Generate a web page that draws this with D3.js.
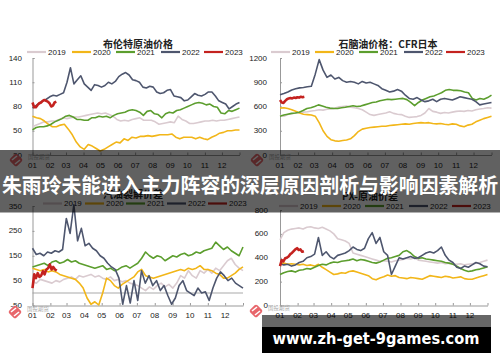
<!DOCTYPE html>
<html>
<head>
<meta charset="utf-8">
<script src="https://cdn.jsdelivr.net/npm/d3@7"></script>
<style>
  body { margin: 0; background: #fff; }
  svg { display: block; }
  text { font-family: "Liberation Sans", Arial, sans-serif; }
</style>
</head>
<body>
<svg id="chart" width="500" height="362"></svg>
<script>
// years / months
const years = ["2019", "2020", "2021", "2022", "2023"];
const months = ["01", "02", "03", "04", "05", "06", "07", "08", "09", "10", "11", "12"];
const monthStart = [0, 31, 59, 90, 120, 151, 181, 212, 243, 273, 304, 334];
const days2023 = [0, 3, 6, 9, 12, 15, 18, 21, 24, 27, 30, 33, 36, 39, 42];

// 布伦特原油价格 (weekly readings)
const brent2019 = [55,57,59,61,61, 62,62,64,66, 65,66,67,67,68, 69,70,71,72, 71,72,70,68,64, 62,63,62,64, 65,66,63,63,63, 61,58,59,60, 61,60,68,64,62, 59,59,60,61,62, 62,63,62,63, 63,64,65,66,67];
const brent2020 = [68,66,65,62,58, 55,55,57,58, 52,45,36,30,27, 33,31,28,25,27, 30,33,36,35, 40,38,42,41, 43,43,44,43,44, 45,45,45,46, 42,40,42,42, 42,40,42,40, 39,42,44,47, 48,50,50,51,51];
const brent2021 = [51,54,55,55,56, 58,61,63,65, 68,69,67,64,64, 63,63,66,66, 68,67,68,66,69, 71,72,73,75, 76,75,73,69,74, 75,71,70,66,71, 73,72,75,76,78, 80,82,84,85,84, 82,83,80,79,72, 71,75,74,76,78];
const brent2022 = [78,81,84,87,89, 92,94,93,95,97, 110,128,108,113,118,108, 104,100,107,106,104, 106,110,108,111,117, 120,122,119,113,112, 110,104,103,105,104, 98,96,97,100,101, 93,92,91,87,88, 92,96,94,93,95, 98,98,93,87,85, 83,77,80,83,85];
const brent2023 = [85,79,79,82,84,85,87,88,87,86,84,80,81,85,86];

// 石脑油价格：CFR日本
const naph2019 = [490,480,500,510,520, 525,530,535,545, 550,560,555,565,570, 580,595,600,605, 590,585,575,560,530, 500,490,500,510, 520,535,515,505,500, 480,465,470,475, 490,520,575,540,530, 515,525,520,530,540, 545,540,550,545, 560,570,575,585,580];
const naph2020 = [580,585,575,560,540, 520,505,500,495, 480,400,300,230,190, 175,170,180,185, 200,240,290,320,330, 340,345,350,355, 355,365,370,375,380, 385,380,390,395, 400,395,400,390,385, 390,380,375,385,380, 360,350,370,380, 410,430,450,465,480];
const naph2021 = [480,495,505,515,520, 530,550,575,585, 600,620,605,590,580, 575,575,585,590, 600,610,600,605,620, 635,650,655,670, 680,690,685,690,695, 700,685,650,610, 650,680,700,720,730, 750,770,800,810,800, 800,795,780,770,700, 680,700,690,710,740];
const naph2022 = [745,760,780,805,820, 830,835,845,850, 1000,1180,1050,960,990, 940,960,920,900, 910,900,880,910,890, 900,880,860,820, 800,780,790,810,790, 740,700,690,710, 680,660,670,690,660, 690,700,690,680,700, 720,710,700,690, 660,620,630,640,650];
const naph2023 = [680,650,645,670,690,700,705,700,710,705,715,710,720,715,720];

// 裂解价差
const crack2019 = [45,40,55,50,45, 40,50,45,55, 60,65,55,70,65, 70,75,65,70, 60,55,65,50,55, 45,50,40,35, 30,20,10,25,15, 30,40,25,35, 20,40,70,60,90, 70,60,90,80,95, 80,100,90,110, 130,140,115,100,90];
const crack2020 = [100,95,90,95,85, 90,85,75,70, 65,60,55,40,20, -20,-45,-35,-48, 0,60,50,30,20, 35,45,55,65, 85,95,70,65,60, 65,70,75,80, 85,90,95,90,100, 95,100,110,95,95, 90,80,75,60, 60,70,80,95,105];
const crack2021 = [105,110,115,120,110, 125,130,120,125, 135,125,130,120,115, 110,105,100,105, 110,95,100,90,95, 105,110,100,110, 120,140,165,150,140, 150,145,130,140, 150,145,155,160,150, 155,165,160,170,175, 180,205,190,175, 185,170,160,150,185];
const crack2022 = [180,155,160,150,165, 160,170,165,175, 300,240,355,210,260,190, 200,180,170,150, 140,120,105,95,60, -45,30,-40,50,-30, 90,40,70,30,50, 10,30,-10,-45, -20,30,50,10,0, -10,20,0,5,-30, 20,60,85,70, 50,60,40,30,20];
const crack2023 = [20,75,60,80,65,70,88,75,95,100,115,95,105,95,90];

// PX价差
const px2019 = [550,610,630,640,645, 650,640,655,660, 650,645,655,640,625, 600,560,550,540, 520,440,430,420,410, 400,390,380,370, 375,370,365,375,380, 385,395,390,400, 380,375,370,365,360, 355,360,350,355,350, 345,350,340,345, 350,355,360,370,380];
const px2020 = [350,355,345,350,345, 340,345,335,340, 330,345,320,300,280, 260,265,275,270, 285,290,280,270,260, 250,225,215,230, 240,255,245,250,235, 230,225,235,230, 225,220,235,250,245, 240,235,245,240,230, 235,240,225,220, 220,230,240,250,260];
const px2021 = [260,275,285,290,280, 295,300,310,305, 320,335,345,340,355, 365,360,370,375, 380,390,375,385,380, 370,360,355,365, 380,395,400,410,420, 450,460,440,410, 395,400,390,385,380, 375,370,360,355,345, 330,310,295,285, 290,300,305,315,325];
const px2022 = [350,340,345,330,340, 360,370,400,410, 430,570,420,450,410, 390,420,430,440, 460,490,470,460,480, 560,610,520,570, 450,420,260,330,400, 390,400,410,395, 400,420,440,450,440, 460,490,420,380,360, 320,310,330,320, 340,360,350,330,325];
const px2023 = [330,380,370,395,400,410,430,440,455,470,480,465,470,450,455];

const colors = ["#dacbd0", "#f2b619", "#5c9e2e", "#4e566e", "#c4221f"];

const panels = [
  { title: "布伦特原油价格", titleX: 138, titleY: 43,
    series: [brent2019, brent2020, brent2021, brent2022, brent2023],
    ticks: [20, 50, 80, 110, 140], x0: 32.5, x1: 239.5, y0: 58, y1: 155, labelX: 22,
    legendY: 52, legendX: [48, 93, 137, 182, 225], logo: [16, 160] },
  { title: "石脑油价格：CFR日本", titleX: 388, titleY: 43,
    series: [naph2019, naph2020, naph2021, naph2022, naph2023],
    ticks: [0, 300, 600, 900, 1200], x0: 280, x1: 491.5, y0: 58, y1: 155, labelX: 267,
    legendY: 52, legendX: [292, 336, 380, 425, 467], logo: [257, 160] },
  { title: "汽油裂解价差", titleX: 133, titleY: 193,
    series: [crack2019, crack2020, crack2021, crack2022, crack2023],
    ticks: [-50, 50, 150, 250, 350], x0: 32.5, x1: 243, y0: 206, y1: 305.5, labelX: 22,
    legendY: 203.5, legendX: [64, 106, 147, 188, 229], logo: [15, 312], zeroLine: true },
  { title: "PX-原油价差", titleX: 370, titleY: 195,
    series: [px2019, px2020, px2021, px2022, px2023],
    ticks: [0, 200, 400, 600, 800], x0: 280, x1: 487.5, y0: 210, y1: 305.5, labelX: 268,
    legendY: 206, legendX: [300, 343, 386, 430, 473], logo: [256, 311] }
];

const svg = d3.select("#chart");

function drawLogo(g, cx, cy) {
  const lg = g.append("g").attr("transform", `translate(${cx},${cy})`);
  lg.append("rect").attr("x", -5).attr("y", -5).attr("width", 10).attr("height", 10)
    .attr("rx", 2).attr("transform", "rotate(45)").attr("fill", "#e8666b");
  lg.append("line").attr("x1", -4).attr("y1", 0).attr("x2", 1).attr("y2", -4)
    .attr("stroke", "#fff").attr("stroke-width", 1.6);
  lg.append("line").attr("x1", -1).attr("y1", 4).attr("x2", 4).attr("y2", 0)
    .attr("stroke", "#fff").attr("stroke-width", 1.6);
  g.append("text").attr("x", cx + 12).attr("y", cy - 1).attr("font-size", 5.5)
    .attr("fill", "#a8a8a8").style("font-family", "'Noto Sans CJK SC'").text("国投期货");
}

panels.forEach(p => {
  const g = svg.append("g");
  const x = d3.scaleLinear().domain([0, 365]).range([p.x0, p.x1]);
  const y = d3.scaleLinear().domain(d3.extent(p.ticks)).range([p.y1, p.y0]);

  // title
  g.append("text").attr("x", p.titleX).attr("y", p.titleY).attr("text-anchor", "middle")
    .attr("dominant-baseline", "central").attr("font-size", 10).attr("font-weight", 700)
    .attr("fill", "#222").style("font-family", "'Noto Sans CJK SC'").text(p.title);

  // legend
  years.forEach((yr, k) => {
    const lx = p.legendX[k];
    g.append("line").attr("x1", lx - 21).attr("x2", lx - 2).attr("y1", p.legendY).attr("y2", p.legendY)
      .attr("stroke", colors[k]).attr("stroke-width", 2.2);
    g.append("text").attr("x", lx).attr("y", p.legendY).attr("dominant-baseline", "central")
      .attr("font-size", 8).attr("fill", "#222").text(yr);
  });

  if (p.zeroLine) {
    g.append("line").attr("x1", p.x0).attr("x2", p.x1).attr("y1", y(0)).attr("y2", y(0))
      .attr("stroke", "#d4d4d4").attr("stroke-width", 2);
  }

  // y axis
  const ya = g.append("g").attr("transform", `translate(${p.x0},0)`)
    .call(d3.axisRight(y).tickValues(p.ticks).tickSize(2).tickFormat(""));
  ya.select(".domain").attr("stroke", "#999");
  ya.selectAll(".tick line").attr("stroke", "#999");
  p.ticks.forEach(t => {
    g.append("text").attr("x", p.labelX).attr("y", y(t)).attr("text-anchor", "end")
      .attr("dominant-baseline", "central").attr("font-size", 8).attr("fill", "#222").text(t);
  });

  // x axis
  const xa = g.append("g").attr("transform", `translate(0,${p.y1})`)
    .call(d3.axisTop(x).tickValues(monthStart.concat([365])).tickSize(2.5).tickSizeOuter(0).tickFormat(""));
  xa.select(".domain").attr("stroke", "#999");
  xa.selectAll(".tick line").attr("stroke", "#999");
  months.forEach((m, i) => {
    g.append("text").attr("x", x(monthStart[i])).attr("y", p.y1 + 10).attr("text-anchor", "middle")
      .attr("dominant-baseline", "central").attr("font-size", 8).attr("fill", "#222").text(m);
  });

  // lines
  p.series.forEach((vals, k) => {
    const isNew = k === 4;
    const line = d3.line()
      .x((d, i) => x(isNew ? days2023[i] : i * 365 / (vals.length - 1)))
      .y(d => y(d));
    g.append("path").datum(vals).attr("d", line).attr("fill", "none")
      .attr("stroke", colors[k]).attr("stroke-width", isNew ? 2.6 : 1.6)
      .attr("stroke-linejoin", "round");
  });

  drawLogo(g, p.logo[0], p.logo[1]);
});

// middle banner
svg.append("rect").attr("x", 0).attr("y", 150).attr("width", 500).attr("height", 62.5)
  .attr("fill", "rgba(0,0,0,0.62)");
svg.append("text").attr("x", 250).attr("y", 184).attr("text-anchor", "middle")
  .attr("dominant-baseline", "central").attr("font-size", 20.5).attr("font-weight", 700)
  .attr("fill", "#fff").style("font-family", "'Noto Sans CJK SC'")
  .attr("textLength", 496).attr("lengthAdjust", "spacingAndGlyphs")
  .text("朱雨玲未能进入主力阵容的深层原因剖析与影响因素解析");

// watermark box
svg.append("rect").attr("x", 262).attr("y", 315).attr("width", 229).attr("height", 12)
  .attr("fill", "rgba(0,0,0,0.6)");
svg.append("rect").attr("x", 262).attr("y", 327).attr("width", 229).attr("height", 26)
  .attr("fill", "#000");
svg.append("text").attr("x", 376).attr("y", 343.5).attr("text-anchor", "middle")
  .attr("font-size", 15).attr("font-weight", 700).attr("fill", "#fff")
  .attr("textLength", 207).attr("lengthAdjust", "spacingAndGlyphs")
  .style("font-family", "'DejaVu Sans'").text("www.zh-get-9games.com");
</script>
</body>
</html>
